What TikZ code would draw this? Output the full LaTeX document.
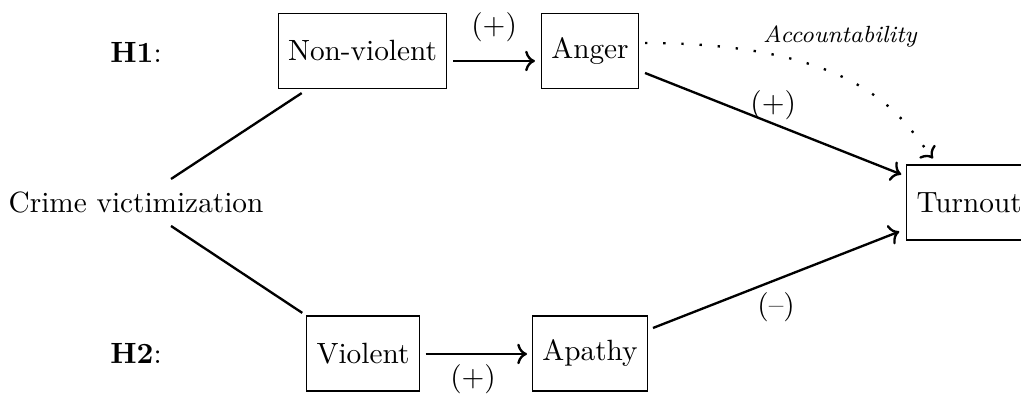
\documentclass[tikz,border=0pt]{standalone}
\usepackage{amsmath}
\usepackage{tikz}
\usetikzlibrary{
    arrows.meta,
    positioning
}

\begin{document}
\begin{tikzpicture}[x=1cm,y=1cm,thick,
    box/.style={draw,thin,minimum height=0.9cm},
    lbl/.style={inner sep=1pt}]

\useasboundingbox (0,0) rectangle (12.252,4.728);

\node (h1) at (1.632,4.104) {\textbf{H1}:};
\node (h2) at (1.632,0.486) {\textbf{H2}:};

\node (crime) at (1.632,2.298) {Crime victimization};

% H1
\node[box] (nonviol) at (4.35,4.116) {Non-violent};
\node[box] (anger) at (7.08,4.116) {Anger};

% H2
\node[box] (viol) at (4.356,0.486) {Violent};
\node[box] (apathy) at (7.08,0.486) {Apathy};

\node[box] (turnout) at (11.63,2.298) {Turnout};

% Branches
\draw ([shift={(0.42,0.282)}]crime.center) -- ([shift={(0.288,-0.048)}]nonviol.south west);
\draw ([shift={(0.42,-0.282)}]crime.center) -- ([shift={(-0.048,0.03)}]viol.north west);

% Paths
\draw[->] ([shift={(0.072,-0.12)}]nonviol.east) -- ([shift={(-0.072,-0.12)}]anger.west)
    node[midway,above=0.18cm,lbl] {(+)};
\draw[->] ([shift={(0.072,-0.006)}]viol.east) -- ([shift={(-0.06,-0.006)}]apathy.west)
    node[midway,below=0.08cm,lbl,xshift=-0.04cm] {(+)};
\draw[->] ([shift={(0.072,-0.264)}]anger.east) -- ([shift={(-0.06,-0.12)}]turnout.north west)
    node[midway,above,lbl] {(+)};
\draw[->] ([shift={(0.06,0.306)}]apathy.east) -- ([shift={(-0.084,0.108)}]turnout.south west)
    node[midway,below=0.1cm,lbl] {(--)};

% Accountability
\draw[->,dash pattern=on 0.8pt off 5.4pt] ([shift={(0.072,0.096)}]anger.east)
    .. controls +(2.7,0) and +(-0.336,0.408) .. ([shift={(-0.434,0.072)}]turnout.north);
\node[anchor=base,font=\footnotesize\itshape] (acc) at (10.08,4.212) {Accountability};

\end{tikzpicture}
\end{document}
